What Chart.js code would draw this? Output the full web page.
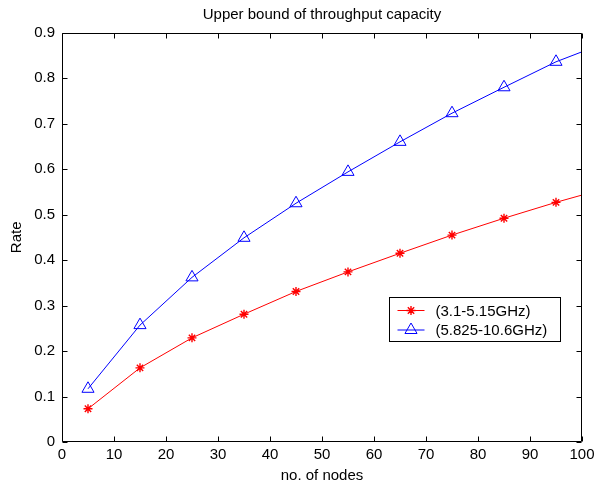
<!DOCTYPE html>
<html><head><meta charset="utf-8">
<script src="https://cdn.jsdelivr.net/npm/chart.js@4/dist/chart.umd.min.js"></script>
<style>html,body{margin:0;padding:0;background:#fff;}canvas{display:block;}</style>
</head><body>
<canvas id="c" width="594" height="485"></canvas>
<script>
// ---- data ----
const nodes = [5, 15, 25, 35, 45, 55, 65, 75, 85, 95, 100];
const rateLowBand = [0.073, 0.163, 0.229, 0.281, 0.331, 0.374, 0.415, 0.455, 0.492, 0.527, 0.543];
const rateHighBand = [0.117, 0.257, 0.362, 0.449, 0.525, 0.594, 0.660, 0.723, 0.780, 0.836, 0.858];
const markedNodes = [5, 15, 25, 35, 45, 55, 65, 75, 85, 95];
const seriesLabels = ['(3.1-5.15GHz)', '(5.825-10.6GHz)'];
const xTickValues = [0, 10, 20, 30, 40, 50, 60, 70, 80, 90, 100];
const yTickValues = [0, 0.1, 0.2, 0.3, 0.4, 0.5, 0.6, 0.7, 0.8, 0.9];
const titleText = 'Upper bound of throughput capacity';
const xTitle = 'no. of nodes';
const yTitle = 'Rate';

const FONT = "'Liberation Sans', Arial, sans-serif";
const FS = 15;

function pts(ys) { return nodes.map((n, i) => ({ x: n, y: ys[i] })); }
function radii(r) { return nodes.map(n => markedNodes.includes(n) ? r : 0); }

const seriesStyle = [
  { color: '#ff0000', pointStyle: 'star', radius: 4.5, pw: 1.4 },
  { color: '#0000ff', pointStyle: 'triangle', radius: 7, pw: 1 }
];

const boxPlugin = {
  id: 'matlabBox',
  afterDatasetsDraw(chart) {
    const { ctx, chartArea: a, scales: { x, y } } = chart;
    const L = Math.round(a.left) + 0.5, R = Math.round(a.right) - 0.5;
    const T = Math.round(a.top) + 0.5, B = Math.round(a.bottom) - 0.5;
    const tl = 5;
    ctx.save();
    ctx.strokeStyle = '#000';
    ctx.lineWidth = 1;
    ctx.beginPath();
    ctx.rect(L, T, R - L, B - T);
    xTickValues.forEach(v => {
      const px = Math.round(x.getPixelForValue(v)) + 0.5;
      ctx.moveTo(px, B); ctx.lineTo(px, B - tl);
      ctx.moveTo(px, T); ctx.lineTo(px, T + tl);
    });
    yTickValues.forEach(v => {
      const py = Math.round(y.getPixelForValue(v)) + 0.5;
      ctx.moveTo(L, py); ctx.lineTo(L + tl, py);
      ctx.moveTo(R, py); ctx.lineTo(R - tl, py);
    });
    ctx.stroke();
    ctx.restore();
  }
};

const legendPlugin = {
  id: 'matlabLegend',
  afterDraw(chart) {
    const { ctx, chartArea: a } = chart;
    const bx = Math.round(a.right - 193) + 0.5, by = Math.round(a.bottom - 145) + 0.5;
    const bw = 171, bh = 44;
    ctx.save();
    ctx.fillStyle = '#fff';
    ctx.fillRect(bx, by, bw, bh);
    ctx.strokeStyle = '#000';
    ctx.lineWidth = 1;
    ctx.strokeRect(bx, by, bw, bh);
    ctx.font = FS + 'px ' + FONT;
    ctx.textBaseline = 'middle';
    ctx.textAlign = 'left';
    seriesLabels.forEach((lab, i) => {
      const st = seriesStyle[i];
      const cy = by + 13 + i * 19.5;
      ctx.strokeStyle = st.color;
      ctx.lineWidth = 1;
      ctx.beginPath();
      ctx.moveTo(bx + 8, cy); ctx.lineTo(bx + 35, cy);
      ctx.stroke();
      ctx.lineWidth = st.pw;
      ctx.fillStyle = 'rgba(0,0,0,0)';
      Chart.helpers.drawPoint(ctx, { pointStyle: st.pointStyle, radius: st.radius, rotation: 0, borderWidth: st.pw }, bx + 21.5, cy);
      ctx.fillStyle = '#000';
      ctx.fillText(lab, bx + 46, cy + 1);
    });
    ctx.restore();
  }
};

new Chart(document.getElementById('c'), {
  type: 'line',
  data: {
    datasets: [rateLowBand, rateHighBand].map((ys, i) => ({
      label: seriesLabels[i],
      data: pts(ys),
      borderColor: seriesStyle[i].color,
      backgroundColor: 'rgba(0,0,0,0)',
      borderWidth: 1,
      pointStyle: seriesStyle[i].pointStyle,
      pointRadius: radii(seriesStyle[i].radius),
      pointBorderWidth: seriesStyle[i].pw,
      pointBorderColor: seriesStyle[i].color,
      pointBackgroundColor: 'rgba(0,0,0,0)',
      tension: 0,
      fill: false
    }))
  },
  options: {
    responsive: false,
    animation: false,
    events: [],
    layout: { padding: 0 },
    plugins: {
      legend: { display: false },
      tooltip: { enabled: false },
      title: {
        display: true, text: titleText, color: '#000', fullSize: false,
        font: { family: FONT, size: FS, weight: 'normal' },
        padding: { top: 5.5, bottom: 9.2 }
      }
    },
    scales: {
      x: {
        type: 'linear', min: 0, max: 100,
        afterBuildTicks: s => { s.ticks = xTickValues.map(v => ({ value: v })); },
        afterFit: s => { s.height = 43; s.paddingLeft = 0; s.paddingRight = 12; },
        grid: { display: false, drawTicks: false },
        border: { display: false },
        ticks: { color: '#000', padding: 4, maxRotation: 0, autoSkip: false,
          font: { family: FONT, size: FS }, callback: v => String(v) },
        title: { display: true, text: xTitle, color: '#000', padding: { top: 0, bottom: 0 },
          font: { family: FONT, size: FS } }
      },
      y: {
        type: 'linear', min: 0, max: 0.9,
        afterBuildTicks: s => { s.ticks = yTickValues.map(v => ({ value: v })); },
        afterFit: s => { s.width = 62; },
        grid: { display: false, drawTicks: false },
        border: { display: false },
        ticks: { color: '#000', padding: 7, autoSkip: false,
          font: { family: FONT, size: FS }, callback: v => String(Number(v.toFixed(1))) },
        title: { display: true, text: yTitle, color: '#000', padding: { top: 8, bottom: 0 },
          font: { family: FONT, size: FS } }
      }
    }
  },
  plugins: [boxPlugin, legendPlugin]
});
</script>
</body></html>
